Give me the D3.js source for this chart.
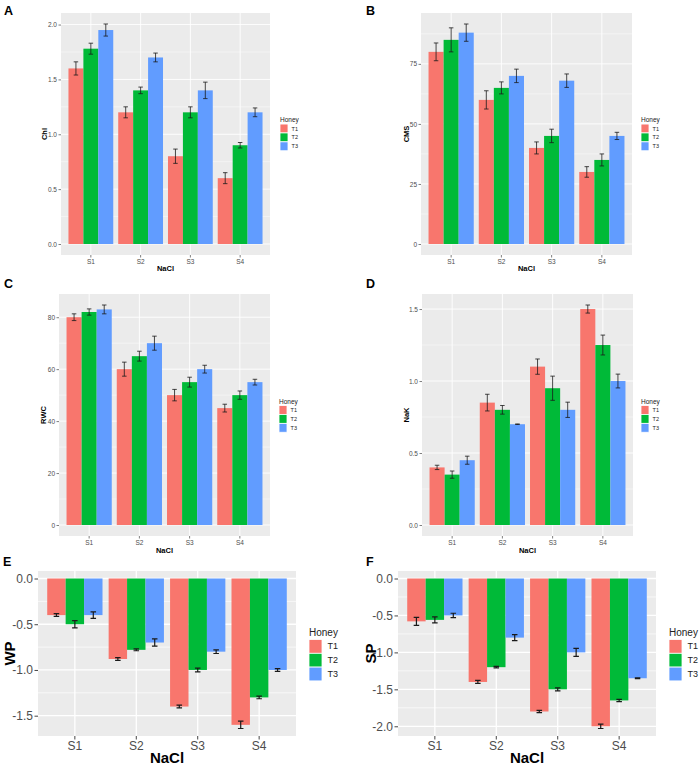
<!DOCTYPE html>
<html>
<head>
<meta charset="utf-8">
<script src="https://d3js.org/d3.v7.min.js"></script>
<style>
  html, body { margin: 0; padding: 0; background: #fff; }
  svg { display: block; font-family: "Liberation Sans", Arial, sans-serif; }
</style>
</head>
<body>
<svg id="chart" width="700" height="766"></svg>
<script>
// data, rows = NaCl level, columns = honey T1..T3
var categories = ["S1", "S2", "S3", "S4"];
var groups = ["T1", "T2", "T3"];
var colors = ["#F8766D", "#00BA38", "#619CFF"];

var chl    = [[1.60, 1.78, 1.95], [1.20, 1.40, 1.70], [0.80, 1.20, 1.40], [0.60, 0.90, 1.20]];
var chlErr = [[0.06, 0.05, 0.055], [0.05, 0.03, 0.04], [0.065, 0.05, 0.075], [0.05, 0.025, 0.04]];

var cms    = [[80, 85, 88], [60, 65, 70], [40, 45, 68], [30, 35, 45]];
var cmsErr = [[3.7, 5, 3.6], [3.8, 2.5, 2.8], [2.5, 2.8, 2.8], [2.2, 2.5, 1.5]];

var rwc    = [[80, 82, 83], [60, 65, 70], [50, 55, 60], [45, 50, 55]];
var rwcErr = [[1.3, 1.2, 1.7], [2.7, 1.9, 2.7], [2.2, 1.9, 1.5], [1.5, 1.6, 1.1]];

var nak    = [[0.40, 0.35, 0.45], [0.85, 0.80, 0.70], [1.10, 0.95, 0.80], [1.50, 1.25, 1.00]];
var nakErr = [[0.015, 0.025, 0.028], [0.058, 0.03, 0.002], [0.053, 0.084, 0.053], [0.028, 0.069, 0.048]];

var wp     = [[-0.40, -0.50, -0.40], [-0.88, -0.78, -0.70], [-1.40, -1.00, -0.80], [-1.60, -1.30, -1.00]];
var wpErr  = [[0.015, 0.04, 0.035], [0.015, 0.01, 0.04], [0.015, 0.02, 0.02], [0.04, 0.015, 0.015]];

var sp     = [[-0.58, -0.56, -0.50], [-1.40, -1.20, -0.80], [-1.80, -1.50, -1.00], [-2.00, -1.65, -1.35]];
var spErr  = [[0.055, 0.04, 0.03], [0.02, 0.01, 0.04], [0.015, 0.02, 0.055], [0.03, 0.015, 0.005]];

var chlTicks = [0, 0.5, 1, 1.5, 2];
var cmsTicks = [0, 25, 50, 75];
var rwcTicks = [0, 20, 40, 60, 80];
var nakTicks = [0, 0.5, 1, 1.5];
var wpTicks  = [0, -0.5, -1, -1.5];
var spTicks  = [0, -0.5, -1, -1.5, -2];

var svg = d3.select("#chart");
var locale = d3.formatLocale({decimal: ".", thousands: ",", grouping: [3], currency: ["", ""], minus: "-"});

var small = {tick: 6.5, title: 7.5, legTitle: 6.5, legLab: 5.5, key: 8.9, keyW: 8, major: 0.9, minor: 0.45, err: 0.8, tickLen: 2.5};
var big   = {tick: 12, title: 15, legTitle: 10, legLab: 9, key: 13.8, keyW: 13, major: 1.3, minor: 0.65, err: 1.2, tickLen: 3.5};

function drawPanel(p) {
  var s = p.style;
  var g = svg.append("g");

  var lo = d3.min(p.values, function(r, i) { return d3.min(r, function(v, j) { return v - p.errs[i][j]; }); });
  var hi = d3.max(p.values, function(r, i) { return d3.max(r, function(v, j) { return v + p.errs[i][j]; }); });
  lo = Math.min(0, lo); hi = Math.max(0, hi);
  var pad = (hi - lo) * 0.05;

  var y = d3.scaleLinear().domain([lo - pad, hi + pad]).range([p.y1, p.y0]);
  var x = d3.scaleBand().domain(categories).range([p.x0, p.x1]).paddingInner(0.1).paddingOuter(0.15);
  var xg = d3.scaleBand().domain(groups).range([0, x.bandwidth()]);

  // panel background
  g.append("rect").attr("x", p.x0).attr("y", p.y0)
    .attr("width", p.x1 - p.x0).attr("height", p.y1 - p.y0).attr("fill", "#EBEBEB");

  // minor grid
  var minors = [];
  for (var i = 0; i < p.ticks.length - 1; i++) minors.push((p.ticks[i] + p.ticks[i + 1]) / 2);
  var step = Math.abs(p.ticks[1] - p.ticks[0]);
  var tmin = d3.min(p.ticks), tmax = d3.max(p.ticks);
  if (tmin - step / 2 > y.domain()[0]) minors.push(tmin - step / 2);
  if (tmax + step / 2 < y.domain()[1]) minors.push(tmax + step / 2);
  g.selectAll(".minor").data(minors).enter().append("line")
    .attr("x1", p.x0).attr("x2", p.x1)
    .attr("y1", function(d) { return y(d); }).attr("y2", function(d) { return y(d); })
    .attr("stroke", "#fff").attr("stroke-width", s.minor);

  // major grid
  g.selectAll(".majorY").data(p.ticks).enter().append("line")
    .attr("x1", p.x0).attr("x2", p.x1)
    .attr("y1", function(d) { return y(d); }).attr("y2", function(d) { return y(d); })
    .attr("stroke", "#fff").attr("stroke-width", s.major);
  g.selectAll(".majorX").data(categories).enter().append("line")
    .attr("x1", function(d) { return x(d) + x.bandwidth() / 2; })
    .attr("x2", function(d) { return x(d) + x.bandwidth() / 2; })
    .attr("y1", p.y0).attr("y2", p.y1)
    .attr("stroke", "#fff").attr("stroke-width", s.major);

  // bars
  var cat = g.selectAll(".cat").data(categories).enter().append("g")
    .attr("transform", function(d) { return "translate(" + x(d) + ",0)"; });
  cat.each(function(c, ci) {
    var cg = d3.select(this);
    groups.forEach(function(t, ti) {
      var v = p.values[ci][ti], e = p.errs[ci][ti];
      cg.append("rect")
        .attr("x", xg(t)).attr("width", xg.bandwidth())
        .attr("y", y(Math.max(0, v))).attr("height", Math.abs(y(v) - y(0)))
        .attr("fill", colors[ti]);
      var cx = xg(t) + xg.bandwidth() / 2, hw = xg.bandwidth() * 0.15;
      cg.append("path")
        .attr("d", "M" + (cx - hw) + "," + y(v + e) + "H" + (cx + hw) +
                   "M" + cx + "," + y(v + e) + "V" + y(v - e) +
                   "M" + (cx - hw) + "," + y(v - e) + "H" + (cx + hw))
        .attr("fill", "none").attr("stroke", "#1a1a1a").attr("stroke-width", s.err);
    });
  });

  // axes
  var yAxis = g.append("g").attr("transform", "translate(" + p.x0 + ",0)")
    .call(d3.axisLeft(y).tickValues(p.ticks).tickFormat(locale.format(p.fmt)).tickSize(s.tickLen).tickPadding(1.5));
  var xAxis = g.append("g").attr("transform", "translate(0," + p.y1 + ")")
    .call(d3.axisBottom(x).tickSize(s.tickLen).tickPadding(1.5));
  [yAxis, xAxis].forEach(function(a) {
    a.select(".domain").remove();
    a.selectAll(".tick line").attr("stroke", "#333").attr("stroke-width", s.minor * 1.4);
    a.selectAll(".tick text").attr("fill", "#4D4D4D").attr("font-size", s.tick)
      .attr("font-family", "'Liberation Sans', Arial, sans-serif");
  });

  // axis titles
  g.append("text").attr("x", (p.x0 + p.x1) / 2).attr("y", p.xTitleY)
    .attr("text-anchor", "middle").attr("dominant-baseline", "central")
    .attr("font-weight", "bold").attr("font-size", s.title).text("NaCl");
  g.append("text")
    .attr("transform", "translate(" + p.yTitleX + "," + (p.y0 + p.y1) / 2 + ") rotate(-90)")
    .attr("text-anchor", "middle").attr("dominant-baseline", "central")
    .attr("font-weight", "bold").attr("font-size", s.title).text(p.yTitle);

  // legend
  var lg = g.append("g").attr("transform", "translate(" + p.legX + "," + p.legY + ")");
  lg.append("text").attr("x", 0).attr("y", 0).attr("dominant-baseline", "central")
    .attr("font-size", s.legTitle).attr("fill", "#222").text("Honey");
  groups.forEach(function(t, ti) {
    var ky = s.legTitle * 0.7 + ti * s.key;
    lg.append("rect").attr("x", 0).attr("y", ky).attr("width", s.keyW).attr("height", s.key)
      .attr("fill", colors[ti]).attr("stroke", "#fff").attr("stroke-width", 0.8);
    lg.append("text").attr("x", s.keyW + s.key * 0.4).attr("y", ky + s.key / 2)
      .attr("dominant-baseline", "central").attr("font-size", s.legLab).attr("fill", "#222").text(t);
  });

  // panel letter
  svg.append("text").attr("x", p.labX).attr("y", p.labY)
    .attr("font-weight", "bold").attr("font-size", 12.5).text(p.label);
}

drawPanel({label: "A", labX: 4, labY: 15, values: chl, errs: chlErr, ticks: chlTicks, fmt: ".1f", yTitle: "Chl",
  x0: 61, x1: 270, y0: 13, y1: 255, xTitleY: 268.5, yTitleX: 44, legX: 280, legY: 119.5, style: small});
drawPanel({label: "B", labX: 366, labY: 15, values: cms, errs: cmsErr, ticks: cmsTicks, fmt: "d", yTitle: "CMS",
  x0: 421, x1: 632, y0: 13, y1: 255, xTitleY: 268.5, yTitleX: 406, legX: 641, legY: 119.5, style: small});
drawPanel({label: "C", labX: 4, labY: 288, values: rwc, errs: rwcErr, ticks: rwcTicks, fmt: "d", yTitle: "RWC",
  x0: 59, x1: 270, y0: 294, y1: 536, xTitleY: 550, yTitleX: 43.5, legX: 279, legY: 401, style: small});
drawPanel({label: "D", labX: 366, labY: 288, values: nak, errs: nakErr, ticks: nakTicks, fmt: ".1f", yTitle: "NaK",
  x0: 422, x1: 633, y0: 294, y1: 536, xTitleY: 550, yTitleX: 406, legX: 641, legY: 401, style: small});
drawPanel({label: "E", labX: 3, labY: 566, values: wp, errs: wpErr, ticks: wpTicks, fmt: ".1f", yTitle: "WP",
  x0: 38, x1: 296, y0: 571, y1: 736, xTitleY: 757, yTitleX: 9, legX: 309, legY: 632.5, style: big});
drawPanel({label: "F", labX: 366, labY: 566, values: sp, errs: spErr, ticks: spTicks, fmt: ".1f", yTitle: "SP",
  x0: 398, x1: 656, y0: 571, y1: 736, xTitleY: 757, yTitleX: 370, legX: 669, legY: 632.5, style: big});
</script>
</body>
</html>
